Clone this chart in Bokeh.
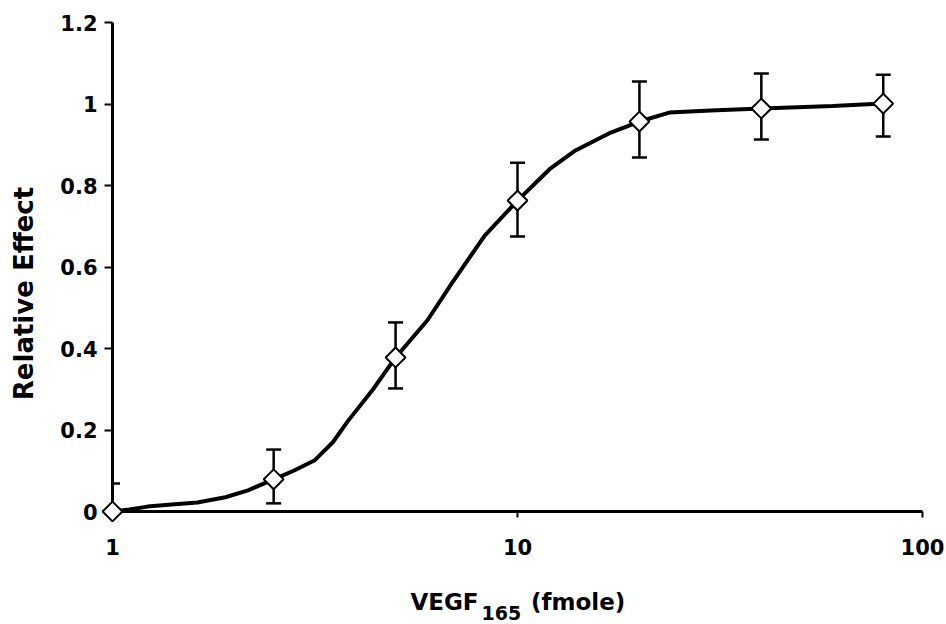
import math
from bokeh.plotting import figure
from bokeh.models import (Range1d, FixedTicker, Whisker, TeeHead, ColumnDataSource)
from bokeh.core.properties import value
from bokeh.embed import file_html
from bokeh.resources import INLINE

# Data
dose = [1, 2.5, 5, 10, 20, 40, 80]
effect = [0.0, 0.079, 0.378, 0.763, 0.957, 0.989, 1.001]
err_upper = [0.069, 0.152, 0.464, 0.856, 1.055, 1.075, 1.072]
err_lower = [0.0, 0.020, 0.302, 0.675, 0.869, 0.913, 0.920]

curve_x = [1, 1.1, 1.22, 1.4, 1.62, 1.9, 2.16, 2.5, 2.8, 3.15, 3.5, 3.82, 4.4, 5, 6.0, 6.88, 8.3, 10, 12.0, 13.9, 17.0, 20, 23.7, 30, 40, 60, 80]
curve_y = [0.0, 0.005, 0.012, 0.017, 0.022, 0.035, 0.052, 0.079, 0.10, 0.125, 0.17, 0.223, 0.30, 0.378, 0.47, 0.56, 0.677, 0.763, 0.84, 0.886, 0.93, 0.957, 0.979, 0.984, 0.989, 0.995, 1.001]

y_ticks = [0, 0.2, 0.4, 0.6, 0.8, 1.0, 1.2]
y_tick_labels = ["0", "0.2", "0.4", "0.6", "0.8", "1", "1.2"]
x_ticks = [1, 10, 100]
x_tick_labels = ["1", "10", "100"]

FONT = "DejaVu Sans"

p = figure(width=946, height=624, x_axis_type="log",
           x_range=Range1d(1, 100), y_range=Range1d(0, 1.2),
           output_backend="svg", toolbar_location=None,
           min_border_left=112, min_border_right=24,
           min_border_top=22, min_border_bottom=113)
p.grid.visible = False
p.outline_line_color = None
p.background_fill_color = "white"
p.border_fill_color = "white"

# Y axis
ya = p.yaxis[0]
ya.ticker = FixedTicker(ticks=y_ticks)
ya.major_label_overrides = {t: l for t, l in zip(y_ticks, y_tick_labels)}
ya.axis_line_width = 3
ya.major_tick_line_width = 2
ya.major_tick_out = 8
ya.major_tick_in = 0
ya.minor_tick_out = 0
ya.minor_tick_in = 0
ya.major_label_text_font = FONT
ya.major_label_text_font_style = "bold"
ya.major_label_text_font_size = "21px"
ya.major_label_text_color = "black"
ya.major_label_standoff = 7

# X axis
xa = p.xaxis[0]
xa.ticker = FixedTicker(ticks=x_ticks)
xa.major_label_overrides = {t: l for t, l in zip(x_ticks, x_tick_labels)}
xa.axis_line_width = 3
xa.major_tick_line_width = 2
xa.major_tick_out = 6
xa.major_tick_in = 0
xa.minor_tick_out = 0
xa.minor_tick_in = 0
xa.major_label_text_font = FONT
xa.major_label_text_font_style = "bold"
xa.major_label_text_font_size = "21px"
xa.major_label_text_color = "black"
xa.major_label_standoff = 21

# Curve
p.line(curve_x, curve_y, line_color="black", line_width=4)

# Error bars
src = ColumnDataSource(dict(x=dose, y=effect, upper=err_upper, lower=err_lower))
wh = Whisker(source=src, base="x", upper="upper", lower="lower", dimension="height",
             line_color="black", line_width=2.5,
             upper_head=TeeHead(size=15, line_width=2.5, line_color="black"),
             lower_head=TeeHead(size=15, line_width=2.5, line_color="black"))
p.add_layout(wh)

# Markers
r = p.scatter("x", "y", source=src, marker="square", angle=math.pi / 4, size=14,
              fill_color="white", line_color="black", line_width=2)
r.level = "overlay"

# Axis titles (text glyphs drawn at overlay level so they are not clipped)
def title_text(x, y, txt, size, align="left", baseline="alphabetic", angle=0.0):
    t = p.text(x=[x], y=[y], text=[txt], text_font=value(FONT), text_font_style="bold",
               text_font_size=size, text_align=align, text_baseline=baseline,
               text_color="black", angle=angle)
    t.level = "overlay"
    return t

title_text(5.44, -0.223, "VEGF", "23px")
title_text(8.15, -0.25, "165", "19px")
title_text(10.8, -0.223, "(fmole)", "23px")
title_text(0.606, 0.535, "Relative Effect", "26px", align="center", baseline="middle", angle=math.pi / 2)

open("out.html", "w").write(file_html(p, INLINE))
